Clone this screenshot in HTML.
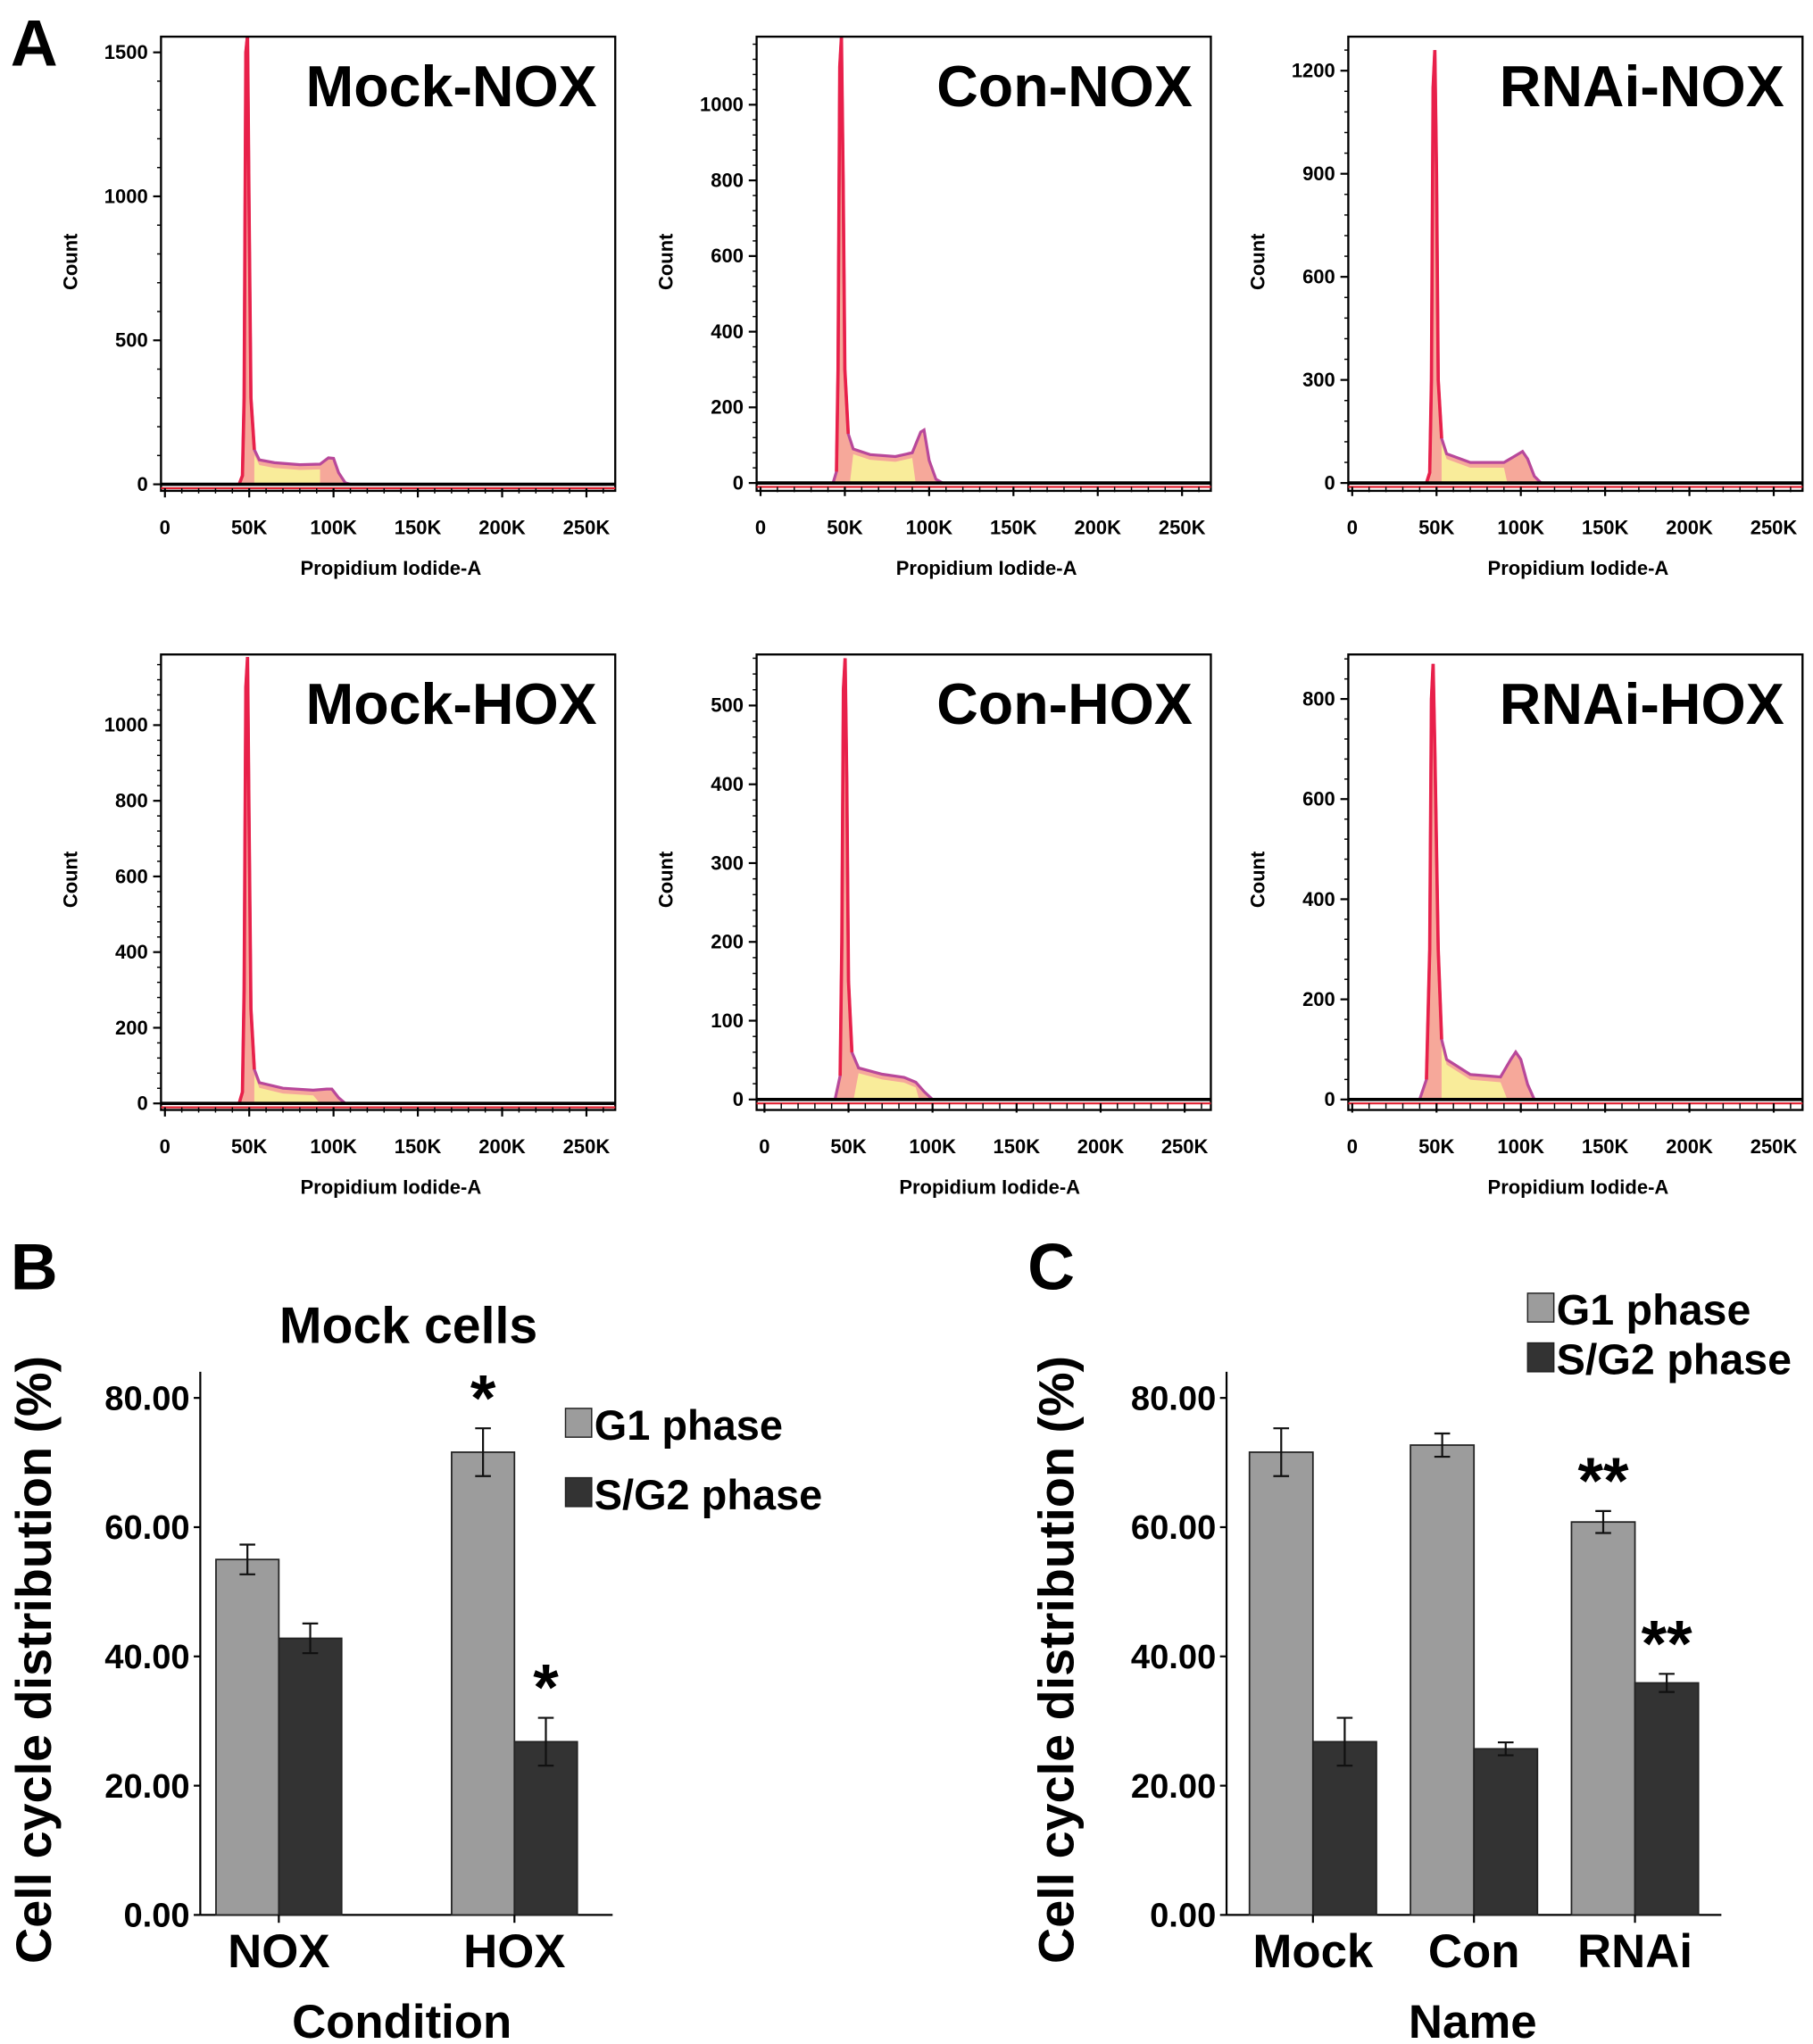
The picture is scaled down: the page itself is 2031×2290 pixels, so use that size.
<!DOCTYPE html>
<html><head><meta charset="utf-8"><style>
html,body{margin:0;padding:0;background:#fff}
svg{display:block}
text{font-family:"Liberation Sans",Arial,sans-serif;font-weight:bold;fill:#000}
</style></head><body>
<svg id="fig" xmlns="http://www.w3.org/2000/svg" width="2031" height="2290" viewBox="0 0 1385 1561.6">
<rect x="0" y="0" width="1385" height="1562" fill="#fff"/>
<text x="8" y="50" font-size="50">A</text>
<text x="8" y="985" font-size="50">B</text>
<text x="785" y="985" font-size="50">C</text>
<g id="hists"></g>
<g id="barB"></g>
<g id="barC"></g>
</svg>
<script>
// ---------- histogram data (x in K, count) ----------
const histTitles = ["Mock-NOX","Con-NOX","RNAi-NOX","Mock-HOX","Con-HOX","RNAi-HOX"];
const histTicks = [[0,500,1000,1500],[0,200,400,600,800,1000],[0,300,600,900,1200],[0,200,400,600,800,1000],[0,100,200,300,400,500],[0,200,400,600,800]];
const xTickVals = [0,50,100,150,200,250];
const xTickLabels = ["0","50K","100K","150K","200K","250K"];
const hist1 = [[0,0],[44,0],[46,30],[47,300],[48,1500],[49,1560],[50,900],[51,300],[53,120],[56,85],[65,75],[80,68],[92,70],[97,92],[100,90],[103,40],[107,5],[110,0],[262,0]];
const hist2 = [[0,0],[43,0],[45,30],[46,300],[47,1100],[48,1180],[49,800],[50,300],[52,130],[55,90],[65,75],[80,70],[90,80],[95,135],[97,140],[100,60],[104,10],[108,0],[262,0]];
const hist3 = [[0,0],[44,0],[46,30],[47,300],[48,1150],[49,1260],[50,900],[51,300],[53,130],[56,85],[70,60],[90,60],[97,80],[101,92],[104,70],[108,20],[112,0],[262,0]];
const hist4 = [[0,0],[44,0],[46,30],[47,300],[48,1100],[49,1180],[50,700],[51,250],[53,90],[56,55],[70,40],[88,35],[96,38],[99,38],[103,15],[107,0],[262,0]];
const hist5 = [[0,0],[42,0],[45,30],[46,200],[47,520],[48,560],[49,400],[50,150],[52,60],[56,40],[70,32],[83,28],[90,22],[95,10],[100,0],[262,0]];
const hist6 = [[0,0],[40,0],[44,40],[46,300],[47,800],[48,870],[49,700],[51,300],[53,120],[56,80],[70,50],[88,45],[94,80],[97,95],[100,80],[104,30],[108,0],[262,0]];
const histData = [hist1,hist2,hist3,hist4,hist5,hist6];

// layout (not data)
const hLayout = [
 {bx:123,by:28,bw:347,bh:347,y0:370,pxPer:0.2200,x0:126,x250:448,lab:403},
 {bx:578,by:28,bw:347,bh:347,y0:369,pxPer:0.2890,x0:581,x250:903,lab:403},
 {bx:1030,by:28,bw:347,bh:347,y0:369,pxPer:0.2625,x0:1033,x250:1355,lab:403},
 {bx:123,by:500,bw:347,bh:348,y0:843,pxPer:0.2890,x0:126,x250:448,lab:876},
 {bx:578,by:500,bw:347,bh:348,y0:840,pxPer:0.6020,x0:584,x250:905,lab:876},
 {bx:1030,by:500,bw:347,bh:348,y0:840,pxPer:0.3825,x0:1033,x250:1355,lab:876}
];
const NS="http://www.w3.org/2000/svg";
function mk(tag,attrs,parent){const e=document.createElementNS(NS,tag);for(const k in attrs)e.setAttribute(k,attrs[k]);parent.appendChild(e);return e;}

const hg=document.getElementById('hists');
histData.forEach((pts,i)=>{
  const L=hLayout[i];
  const g=mk('g',{},hg);
  
  
  const xs=v=>L.x0+v*(L.x250-L.x0)/250;
  const ys=c=>L.y0-c*L.pxPer;
  const cid='clip'+i;
  const cp=mk('clipPath',{id:cid},g);
  mk('rect',{x:L.bx,y:L.by,width:L.bw,height:L.bh},cp);
  const dg=mk('g',{'clip-path':'url(#'+cid+')'},g);
  const d='M'+pts.map(p=>xs(p[0]).toFixed(1)+','+ys(p[1]).toFixed(1)).join('L')+'Z';
  const area=mk('path',{d:d,fill:'#f6a89a',stroke:'none'},dg);
  
  
  const sp=pts.filter(p=>p[0]>=53&&p[0]<=92);
  const sd='M'+xs(53)+','+L.y0+'L'+sp.map(p=>xs(p[0]).toFixed(1)+','+(ys(p[1])+4).toFixed(1)).join('L')+'L'+xs(92)+','+L.y0+'Z';
  const sband=mk('path',{d:sd,fill:'#f9ec9a'},dg);
  
  
  const line=mk('path',{d:'M'+pts.map(p=>xs(p[0]).toFixed(1)+','+ys(p[1]).toFixed(1)).join('L'),fill:'none',stroke:'#b8489a','stroke-width':2.2},dg);
  
  
  mk('path',{d:'M'+pts.filter(p=>p[0]>=44&&p[0]<=53).map(p=>xs(p[0]).toFixed(1)+','+ys(p[1]).toFixed(1)).join('L'),fill:'none',stroke:'#e8204a','stroke-width':2.5},dg);
  const box=mk('rect',{x:L.bx,y:L.by,width:L.bw,height:L.bh,fill:'none',stroke:'#000','stroke-width':1.6},g);
  
  
  mk('line',{x1:L.bx,y1:L.y0+3,x2:L.bx+L.bw,y2:L.y0+3,stroke:'#e02030','stroke-width':1.5},g);
  mk('line',{x1:L.bx,y1:L.y0,x2:L.bx+L.bw,y2:L.y0,stroke:'#000','stroke-width':2.5},g);
  histTicks[i].forEach(t=>{
    const y=ys(t);
    mk('line',{x1:L.bx-6,y1:y,x2:L.bx,y2:y,stroke:'#000','stroke-width':1.5},g);
    const tx=mk('text',{x:L.bx-10,y:y+5,'font-size':15,'text-anchor':'end'},g);
    tx.textContent=t;
    
    
  });
  const step=histTicks[i][1]/5;
  for(let v=0;ys(v)>L.by;v+=step){mk('line',{x1:L.bx-3,y1:ys(v),x2:L.bx,y2:ys(v),stroke:'#000','stroke-width':1},g);}
  xTickVals.forEach((v,j)=>{
    const x=xs(v);
    mk('line',{x1:x,y1:L.y0+3,x2:x,y2:L.y0+10,stroke:'#000','stroke-width':1.5},g);
    const tx=mk('text',{x:x,y:L.lab+5,'font-size':15,'text-anchor':'middle'},g);
    tx.textContent=xTickLabels[j];
    
    
  });
  for(let v=10;v<=260;v+=10){mk('line',{x1:xs(v),y1:L.y0+3,x2:xs(v),y2:L.y0+7,stroke:'#000','stroke-width':1},g);}
  const xt=mk('text',{x:xs(134),y:L.lab+36,'font-size':15,'text-anchor':'middle'},g);
  xt.textContent='Propidium Iodide-A';
  
  
  const yt=mk('text',{x:0,y:0,'font-size':15,'text-anchor':'middle',transform:'translate('+(L.bx-64)+','+(L.by+172)+') rotate(-90)'},g);
  yt.textContent='Count';
  
  
  const tt=mk('text',{x:L.bx+L.bw-14,y:L.by+53,'font-size':44,'text-anchor':'end'},g);
  tt.textContent=histTitles[i];
  
  
});

// ---------- bar charts ----------
const bCats = ["NOX","HOX"];
const bG1 = [55.0,71.6];
const bG1Err = [2.3,3.7];
const bSG2 = [42.8,26.8];
const bSG2Err = [2.3,3.7];
const bStars = [["",""],["*","*"]];
const cCats = ["Mock","Con","RNAi"];
const cG1 = [71.6,72.7,60.8];
const cG1Err = [3.7,1.8,1.7];
const cSG2 = [26.8,25.7,35.9];
const cSG2Err = [3.7,1.0,1.4];
const cStars = [["",""],["",""],["**","**"]];
const yTicksBar = [0,20,40,60,80];
const yTickLabelsBar = ["0.00","20.00","40.00","60.00","80.00"];

function barChart(gid,o,cats,g1,g1e,s2,s2e,stars,name){
  const g=document.getElementById(gid);
  
  
  const y=v=>o.y0-v*(o.y0-o.y80)/80;
  mk('line',{x1:o.ax,y1:o.top,x2:o.ax,y2:o.y0,stroke:'#000','stroke-width':1.5},g);
  mk('line',{x1:o.ax,y1:o.y0,x2:o.axEnd,y2:o.y0,stroke:'#000','stroke-width':1.5},g);
  yTicksBar.forEach((t,j)=>{
    mk('line',{x1:o.ax-5,y1:y(t),x2:o.ax,y2:y(t),stroke:'#000','stroke-width':1.5},g);
    const tx=mk('text',{x:o.ax-8,y:y(t)+9,'font-size':26,'text-anchor':'end'},g);
    tx.textContent=yTickLabelsBar[j];
    
    
  });
  cats.forEach((c,i)=>{
    const cx=o.c0+i*o.cstep;
    [[g1[i],g1e[i],'#9c9c9c',cx-o.bw,'g1'],[s2[i],s2e[i],'#333333',cx,'sg2']].forEach((b,k)=>{
      const r=mk('rect',{x:b[3],y:y(b[0]),width:o.bw,height:o.y0-y(b[0]),fill:b[2],stroke:'#222','stroke-width':1.2},g);
      
      
      const mx=b[3]+o.bw/2;
      const e=mk('path',{d:'M'+mx+','+y(b[0]+b[1])+'V'+y(b[0]-b[1])+'M'+(mx-6)+','+y(b[0]+b[1])+'H'+(mx+6)+'M'+(mx-6)+','+y(b[0]-b[1])+'H'+(mx+6),stroke:'#111','stroke-width':1.5,fill:'none'},g);
      
      
      if(stars[i][k]){
        const s=mk('text',{x:mx,y:y(b[0]+b[1])-6,'font-size':50,'text-anchor':'middle'},g);
        s.textContent=stars[i][k];
        
        
      }
    });
    mk('line',{x1:cx,y1:o.y0,x2:cx,y2:o.y0+6,stroke:'#000','stroke-width':1.5},g);
    const l=mk('text',{x:cx,y:o.y0+40,'font-size':36,'text-anchor':'middle'},g);
    l.textContent=c;
    
    
  });
  const xt=mk('text',{x:o.xtx,y:1557,'font-size':36,'text-anchor':'middle'},g);
  xt.textContent=o.xt;
  
  
  const yt=mk('text',{x:0,y:0,'font-size':38,'text-anchor':'middle',transform:'translate('+o.ytx+',1268) rotate(-90)'},g);
  yt.textContent='Cell cycle distribution (%)';
  
  
  [['G1 phase','#9c9c9c',o.ly],['S/G2 phase','#333333',o.ly+o.lstep]].forEach((L,k)=>{
    const sw=mk('rect',{x:o.lx,y:L[2]-13,width:20,height:22,fill:L[1],stroke:'#222','stroke-width':1},g);
    
    
    const t=mk('text',{x:o.lx+22,y:L[2]+11,'font-size':o.lfs},g);
    t.textContent=L[0];
    
    
  });
}
barChart('barB',{ax:153,axEnd:468,top:1048,y0:1463,y80:1068,c0:213,cstep:180,bw:48,xt:'Condition',xtx:307,ytx:39,lx:432,ly:1089,lstep:53,lfs:32},bCats,bG1,bG1Err,bSG2,bSG2Err,bStars,'bar-chart-mock-cells');
barChart('barC',{ax:937,axEnd:1315,top:1048,y0:1463,y80:1068,c0:1003,cstep:123,bw:48.5,xt:'Name',xtx:1125,ytx:820,lx:1167,ly:1001,lstep:38,lfs:33},cCats,cG1,cG1Err,cSG2,cSG2Err,cStars,'bar-chart-by-name');
const t=mk('text',{x:312,y:1026,'font-size':39,'text-anchor':'middle'},document.getElementById('barB'));
t.textContent='Mock cells';


</script>
</body></html>
